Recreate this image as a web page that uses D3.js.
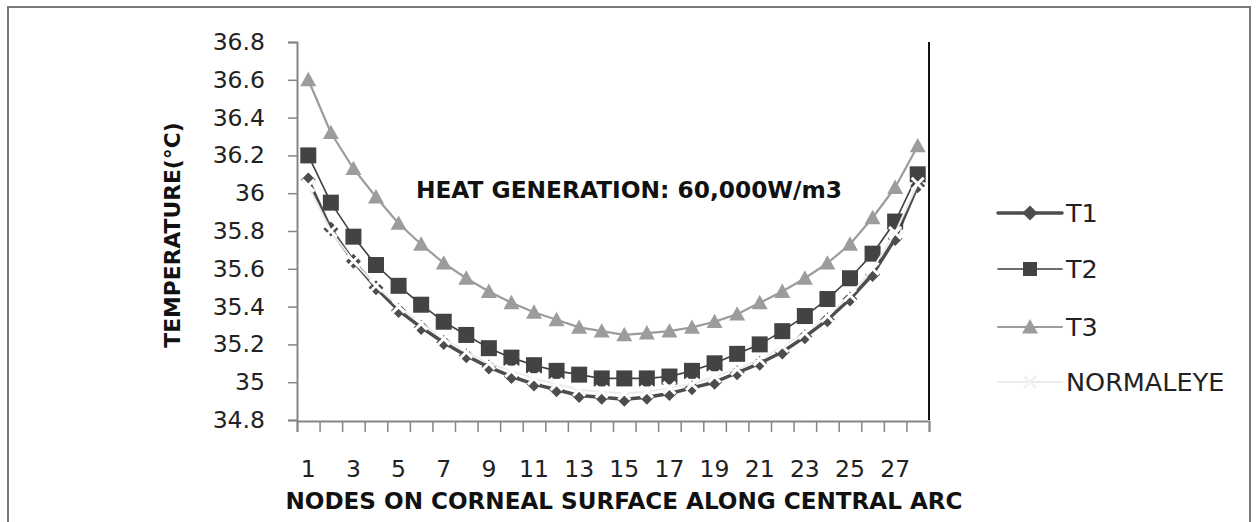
<!DOCTYPE html>
<html>
<head>
<meta charset="utf-8">
<script src="https://cdn.jsdelivr.net/npm/d3@7/dist/d3.min.js"></script>
<style>
  html, body { margin: 0; padding: 0; background: #fff; }
  svg { display: block; }
</style>
</head>
<body>
<svg id="chart" width="1256" height="522"></svg>
<script>
// Nodes along the central arc of the corneal surface
const nodes = d3.range(1, 29);
const xTickLabels = [1, 3, 5, 7, 9, 11, 13, 15, 17, 19, 21, 23, 25, 27];
const yTicks = [34.8, 35, 35.2, 35.4, 35.6, 35.8, 36, 36.2, 36.4, 36.6, 36.8];

// Surface temperatures (°C) per node
const t1 = [36.07, 35.81, 35.64, 35.50, 35.38, 35.29, 35.21, 35.14, 35.08, 35.03, 34.99, 34.96, 34.93, 34.92,
            34.91, 34.92, 34.94, 34.97, 35.00, 35.05, 35.10, 35.16, 35.24, 35.33, 35.44, 35.57, 35.76, 36.04];
const t2 = [36.20, 35.95, 35.77, 35.62, 35.51, 35.41, 35.32, 35.25, 35.18, 35.13, 35.09, 35.06, 35.04, 35.02,
            35.02, 35.02, 35.03, 35.06, 35.10, 35.15, 35.20, 35.27, 35.35, 35.44, 35.55, 35.68, 35.85, 36.10];
const t3 = [36.60, 36.32, 36.13, 35.98, 35.84, 35.73, 35.63, 35.55, 35.48, 35.42, 35.37, 35.33, 35.29, 35.27,
            35.25, 35.26, 35.27, 35.29, 35.32, 35.36, 35.42, 35.48, 35.55, 35.63, 35.73, 35.87, 36.03, 36.25];
const normalEye = [36.04, 35.80, 35.64, 35.51, 35.40, 35.31, 35.23, 35.16, 35.10, 35.06, 35.02, 34.99, 34.96, 34.95,
                   34.94, 34.95, 34.97, 34.99, 35.03, 35.07, 35.12, 35.19, 35.26, 35.35, 35.46, 35.60, 35.79, 36.05];

const seriesNames = ["T1", "T2", "T3", "NORMALEYE"];
const seriesValues = [t1, t2, t3, normalEye];

const svg = d3.select("#chart");
const FONT = "'DejaVu Sans', sans-serif";

// outer chart frame
svg.append("rect")
  .attr("x", 8).attr("y", 7).attr("width", 1242).attr("height", 540)
  .attr("fill", "none").attr("stroke", "#7a7a7a").attr("stroke-width", 2);

const x = d3.scaleLinear().domain([0.5, 28.5]).range([297, 929]);
const y = d3.scaleLinear().domain([34.8, 36.8]).range([420, 42]);

// y axis
const yAxis = svg.append("g").attr("transform", "translate(297,0)")
  .call(d3.axisLeft(y).tickValues(yTicks).tickSize(9).tickPadding(23)
        .tickFormat(d => d3.format("~g")(d)));
yAxis.select(".domain").attr("stroke", "#868686").attr("stroke-width", 2);
yAxis.selectAll(".tick line").attr("stroke", "#868686").attr("stroke-width", 1.5);
yAxis.selectAll(".tick text").attr("font-family", FONT).attr("font-size", 23.5).attr("fill", "#222");

// x axis: ticks between categories
const xAxis = svg.append("g").attr("transform", "translate(0,421)")
  .call(d3.axisBottom(x).tickValues(d3.range(0.5, 29, 1)).tickSize(11).tickFormat(""));
xAxis.select(".domain").attr("stroke", "#868686").attr("stroke-width", 2);
xAxis.selectAll(".tick line").attr("stroke", "#868686").attr("stroke-width", 1.5);

svg.append("g").selectAll("text").data(xTickLabels).join("text")
  .attr("x", d => x(d)).attr("y", 477)
  .attr("text-anchor", "middle")
  .attr("font-family", FONT).attr("font-size", 23.5).attr("fill", "#222")
  .text(d => d);

// right edge of plot area
svg.append("line")
  .attr("x1", x(28.5)).attr("x2", x(28.5)).attr("y1", y(36.8)).attr("y2", y(34.8))
  .attr("stroke", "#111").attr("stroke-width", 2);

// axis titles
svg.append("text")
  .attr("x", 624).attr("y", 509).attr("text-anchor", "middle")
  .attr("font-family", FONT).attr("font-weight", "bold").attr("font-size", 23.1).attr("fill", "#111")
  .text("NODES ON CORNEAL SURFACE ALONG CENTRAL ARC");

svg.append("text")
  .attr("transform", "translate(180,235) rotate(-90)")
  .attr("text-anchor", "middle")
  .attr("font-family", FONT).attr("font-weight", "bold").attr("font-size", 21.8).attr("fill", "#111")
  .text("TEMPERATURE(°C)");

// annotation
svg.append("text")
  .attr("x", 629).attr("y", 198).attr("text-anchor", "middle")
  .attr("font-family", FONT).attr("font-weight", "bold").attr("font-size", 23.3).attr("fill", "#111")
  .text("HEAT GENERATION: 60,000W/m3");

// series styles
const styles = [
  { line: "#4d4d4d", width: 3.5, marker: "diamond", fill: "#4d4d4d", size: 15 },
  { line: "#3f3f3f", width: 1.6, marker: "square", fill: "#434343", size: 16 },
  { line: "#9c9c9c", width: 2.2, marker: "triangle", fill: "#9c9c9c", size: 16 },
  { line: "#ececec", width: 2, marker: "x", fill: "#ffffff", size: 12 }
];

function drawMarker(g, type, fill, size) {
  const h = size / 2;
  if (type === "diamond") {
    g.append("path").attr("d", `M0,${-h}L${h},0L0,${h}L${-h},0Z`).attr("fill", fill);
  } else if (type === "square") {
    g.append("rect").attr("x", -h).attr("y", -h).attr("width", size).attr("height", size)
      .attr("fill", fill);
  } else if (type === "triangle") {
    g.append("path").attr("d", `M0,${-h}L${h},${h * 0.8}L${-h},${h * 0.8}Z`).attr("fill", fill);
  } else if (type === "x") {
    g.append("path").attr("d", `M${-h},${-h}L${h},${h}M${h},${-h}L${-h},${h}`)
      .attr("stroke", fill).attr("stroke-width", 3);
  }
}

const line = d3.line().x((d, i) => x(nodes[i])).y(d => y(d));

seriesValues.forEach((vals, s) => {
  const st = styles[s];
  const g = svg.append("g");
  g.append("path").datum(vals).attr("d", line)
    .attr("fill", "none").attr("stroke", st.line).attr("stroke-width", st.width)
    .attr("stroke-linejoin", "round");
  vals.forEach((v, i) => {
    const m = g.append("g").attr("transform", `translate(${x(nodes[i])},${y(v)})`);
    drawMarker(m, st.marker, st.fill, st.size);
  });
});

// legend
const legendY = [213, 269, 327, 382];
seriesNames.forEach((name, s) => {
  const st = styles[s];
  const g = svg.append("g").attr("transform", `translate(0,${legendY[s]})`);
  g.append("line").attr("x1", 998).attr("x2", 1062).attr("y1", 0).attr("y2", 0)
    .attr("stroke", st.line).attr("stroke-width", st.width).attr("stroke-linecap", "round");
  const m = g.append("g").attr("transform", "translate(1030,0)");
  drawMarker(m, st.marker, s === 3 ? "#f2f2f2" : st.fill, s === 1 ? 14 : st.size);
  g.append("text").attr("x", 1066).attr("y", 9)
    .attr("font-family", FONT).attr("font-size", 25.5).attr("fill", "#222")
    .text(name);
});
</script>
</body>
</html>
